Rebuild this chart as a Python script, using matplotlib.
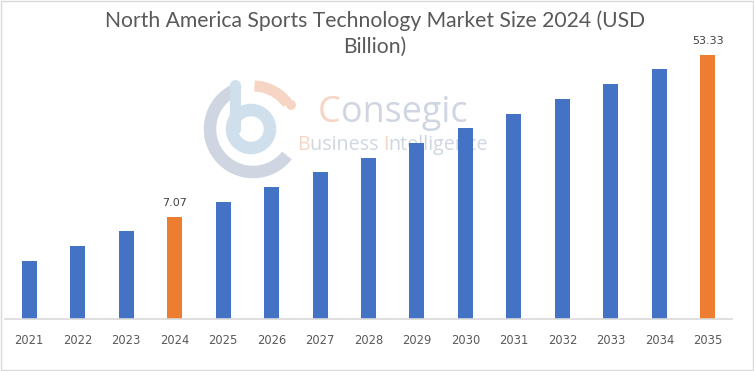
import matplotlib.pyplot as plt
from matplotlib.patches import Rectangle, Arc, Circle

# data (bars are drawn schematically, not to a linear scale)
years = ["2021", "2022", "2023", "2024", "2025", "2026", "2027", "2028",
         "2029", "2030", "2031", "2032", "2033", "2034", "2035"]
bar_height = [58, 73, 88, 102, 117, 132, 147, 161, 176, 191, 205, 220, 235, 250, 264]
bar_labels = ["", "", "", "7.07", "", "", "", "", "", "", "", "", "", "", "53.33"]
highlight = ["2024", "2035"]

BLUE = "#4472c4"
ORANGE = "#ed7d31"
GREY_TXT = "#595959"
WM_GREY = "#cfd6e1"
WM_ORANGE = "#f7d5c4"

W, H = 754, 371
fig = plt.figure(figsize=(W / 100, H / 100), dpi=100)

# watermark layer first, so the bars sit on top of it (pixel coords, y down)
wm = fig.add_axes([0, 0, 1, 1], facecolor="none", zorder=0)
wm.set_xlim(0, W)
wm.set_ylim(H, 0)
wm.axis("off")

# axes placed in pixel terms: baseline at y=319, x from 5 to 732
ax_l, ax_r, ax_b, ax_t = 5, 732, 319, 40
ax = fig.add_axes([ax_l / W, (H - ax_b) / H, (ax_r - ax_l) / W, (ax_b - ax_t) / H],
                  facecolor="none", zorder=1)
ax.set_ylim(0, ax_b - ax_t)
ax.set_xlim(-0.5, len(years) - 0.5)

colors = [ORANGE if y in highlight else BLUE for y in years]
x = range(len(years))
bars = ax.bar(x, bar_height, width=0.31, color=colors, zorder=2)

for b, lab in zip(bars, bar_labels):
    if lab:
        ax.text(b.get_x() + b.get_width() / 2, b.get_height() + 9, lab,
                ha="center", va="bottom", fontsize=8, color="#404040",
                family="DejaVu Sans")

ax.set_xticks(list(x))
ax.set_xticklabels(years, fontsize=8.3, color=GREY_TXT, family="DejaVu Sans")
ax.tick_params(axis="x", length=0, pad=11)
ax.set_yticks([])
for s in ["top", "right", "left"]:
    ax.spines[s].set_visible(False)
ax.spines["bottom"].set_color("#d9d9d9")
ax.spines["bottom"].set_linewidth(1.2)

# title
fig.text(375 / W, 1 - 27 / H, "North America Sports Technology Market Size 2024 (USD",
         ha="center", va="baseline", fontsize=15.2, color=GREY_TXT, family="Lato")
fig.text(375 / W, 1 - 53 / H, "Billion)",
         ha="center", va="baseline", fontsize=15.2, color=GREY_TXT, family="Lato")

# logo (angles are mirrored because y runs downwards)
cx, cy = 253, 129
wm.add_patch(Arc((cx, cy), 86, 86, theta1=38, theta2=245, lw=9, color=WM_GREY))
wm.add_patch(Arc((cx - 2, cy), 38, 38, theta1=0, theta2=360, lw=9, color="#cfe0ec"))
wm.plot([235, 235], [85, 129], color="#cfe0ec", lw=8, solid_capstyle="round")
wm.add_patch(Arc((cx, cy), 86, 86, theta1=272, theta2=324, lw=8, color=WM_ORANGE))
wm.add_patch(Circle((291, 105), 4.2, color=WM_ORANGE))

renderer = fig.canvas.get_renderer()


def text_w(s, **kw):
    t = wm.text(0, 0, s, **kw)
    w = t.get_window_extent(renderer).width
    t.remove()
    return w


def two_tone(x0, y, parts, **kw):
    prefix = ""
    for s, c in parts:
        full = prefix + s
        xs = x0 + text_w(full, **kw) - text_w(s, **kw)
        wm.text(xs, y, s, color=c, ha="left", va="baseline", **kw)
        prefix = full


two_tone(318, 122, [("C", WM_ORANGE), ("onsegic", WM_GREY)],
         fontsize=25.8, family="Open Sans")
two_tone(297, 150, [("B", WM_ORANGE), ("usiness ", WM_GREY), ("I", WM_ORANGE),
                    ("ntelligence", WM_GREY)],
         fontsize=14.2, family="Open Sans")

# light border round the picture
wm.add_patch(Rectangle((0.5, 0.5), W - 1.5, H - 1.5, fill=False, ec="#d9d9d9", lw=1))

fig.savefig("out.png", dpi=100)
